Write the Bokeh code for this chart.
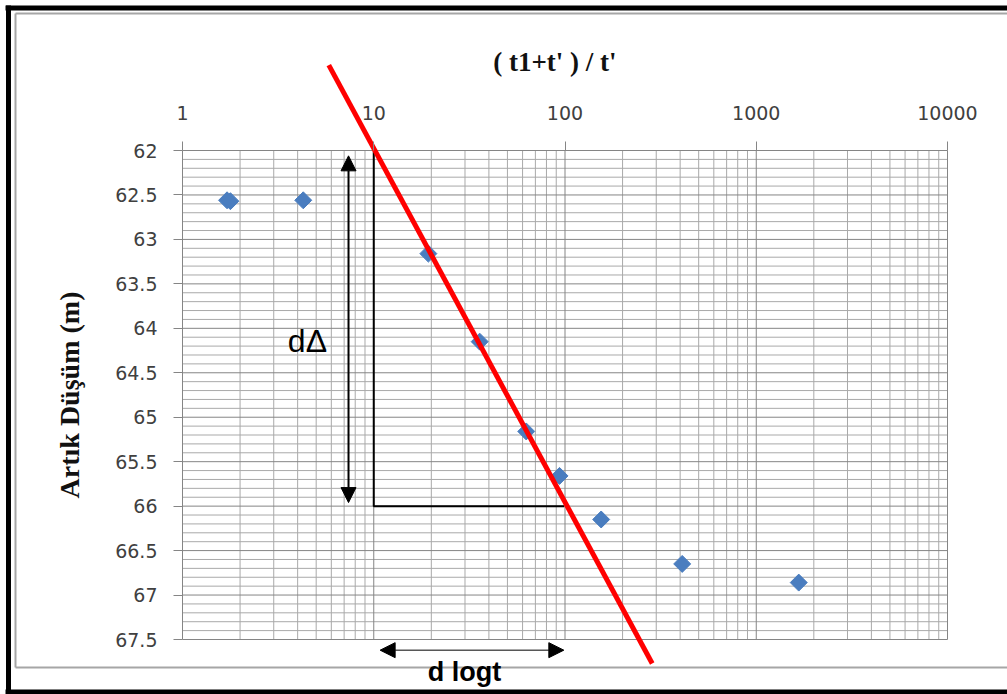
import math
import numpy as np
from bokeh.plotting import figure
from bokeh.models import Range1d, FixedTicker, Arrow, NormalHead, Label, LinearAxis, LogAxis
from bokeh.embed import file_html
from bokeh.resources import INLINE

# Recovery test: (t1+t')/t' against residual drawdown
ratio = [1.71, 1.78, 4.28, 19.3, 35.8, 62.7, 93.6, 154.6, 410.0, 1668.0]
drawdown = [62.56, 62.57, 62.56, 63.16, 64.15, 65.16, 65.66, 66.15, 66.65, 66.86]

x_lim = (1, 10000)
y_lim = (62, 67.5)

x_ticks = [1, 10, 100, 1000, 10000]
x_tick_labels = ["1", "10", "100", "1000", "10000"]
x_minor = [m * 10 ** k for k in range(4) for m in range(2, 10)]

y_ticks = [62, 62.5, 63, 63.5, 64, 64.5, 65, 65.5, 66, 66.5, 67, 67.5]
y_tick_labels = ["62", "62.5", "63", "63.5", "64", "64.5", "65", "65.5", "66", "66.5", "67", "67.5"]
y_minor = [round(62 + 0.1 * i, 1) for i in range(56) if (i % 5) != 0]

# straight line through the late-time points
fit_x = [5.82, 285.8]
fit_y = [61.04, 67.77]

# slope triangle: one log cycle and the drawdown change over it
tri_x = [10, 10, 99]
tri_y = [62, 66, 66]

# dimension arrows and their labels
d_delta_x = [7.38, 7.38]
d_delta_y = [62.06, 65.96]
d_logt_x = [10.8, 98.6]
d_logt_y = [67.62, 67.62]
d_delta_pos = (4.5, 64.14)
d_logt_pos = (29.8, 67.87)

# page layout in pixels: canvas size and where the gridded area sits
W, H = 1007, 694
GRID_L, GRID_R, GRID_T, GRID_B = 182, 947, 150, 639

# the frame covers the whole canvas so that marks may run past the grid
px_per_decade = (GRID_R - GRID_L) / (math.log10(x_lim[1]) - math.log10(x_lim[0]))
lx0 = math.log10(x_lim[0]) - GRID_L / px_per_decade
lx1 = math.log10(x_lim[1]) + (W - GRID_R) / px_per_decade
u_per_px = (y_lim[1] - y_lim[0]) / (GRID_B - GRID_T)
y_top = y_lim[0] - GRID_T * u_per_px
y_bottom = y_lim[1] + (H - GRID_B) * u_per_px


def px_x(px):
    return 10 ** (lx0 + px / px_per_decade)


def px_y(py):
    return y_top + py * u_per_px


p = figure(width=W, height=H, x_axis_type="log",
           x_range=Range1d(10 ** lx0, 10 ** lx1), y_range=Range1d(y_bottom, y_top),
           output_backend="svg", toolbar_location=None,
           x_axis_location=None, y_axis_location=None,
           min_border=0)
p.background_fill_color = "white"
p.border_fill_color = "white"
p.outline_line_color = None
p.xgrid.visible = False
p.ygrid.visible = False

# grid, limited to the plotting area
major_c, minor_c = "#858585", "#a9a9a9"
p.segment(x0=x_minor, x1=x_minor, y0=[y_lim[0]] * len(x_minor), y1=[y_lim[1]] * len(x_minor),
          line_color=minor_c, line_width=1)
p.segment(x0=[x_lim[0]] * len(y_minor), x1=[x_lim[1]] * len(y_minor), y0=y_minor, y1=y_minor,
          line_color=minor_c, line_width=1)
p.segment(x0=x_ticks, x1=x_ticks, y0=[y_lim[0]] * len(x_ticks), y1=[y_lim[1]] * len(x_ticks),
          line_color=major_c, line_width=1)
p.segment(x0=[x_lim[0]] * len(y_ticks), x1=[x_lim[1]] * len(y_ticks), y0=y_ticks, y1=y_ticks,
          line_color=major_c, line_width=1)

# axes pinned to the edges of the grid
xax = LogAxis(fixed_location=y_lim[0], bounds=x_lim,
              ticker=FixedTicker(ticks=x_ticks, minor_ticks=[]))
yax = LinearAxis(fixed_location=x_lim[0], bounds=y_lim,
                 ticker=FixedTicker(ticks=y_ticks, minor_ticks=[]))
p.add_layout(xax, "above")
p.add_layout(yax, "left")

for ax in (xax, yax):
    ax.axis_line_color = None
    ax.major_tick_in = 0
    ax.major_tick_out = 9
    ax.major_tick_line_color = major_c
    ax.minor_tick_line_color = None
    ax.major_label_text_font = "DejaVu Sans"
    ax.major_label_text_font_size = "19px"
    ax.major_label_text_color = "#404040"
    ax.axis_label_text_font = "Liberation Serif"
    ax.axis_label_text_font_style = "bold"
    ax.axis_label_text_color = "#111111"

xax.major_label_overrides = dict(zip(x_ticks, x_tick_labels))
xax.axis_label = "( t1+t'  )  /  t'"
xax.axis_label_text_font_size = "27px"
xax.major_label_standoff = 22
xax.axis_label_standoff = 26

yax.major_label_overrides = dict(zip(y_ticks, y_tick_labels))
yax.axis_label = "Artık Düşüm (m)"
yax.axis_label_text_font_size = "28px"
yax.major_label_standoff = 16
yax.axis_label_standoff = 27

# measured points
p.scatter(ratio, drawdown, marker="square", angle=np.pi / 4, size=12,
          fill_color="#4a7dbf", line_color="#4a7dbf")

# slope triangle
p.line(tri_x, tri_y, line_color="black", line_width=2)

# fitted straight line
p.line(fit_x, fit_y, line_color="#ff0000", line_width=5)

head = dict(size=15, fill_color="black", line_color="black")
p.add_layout(Arrow(x_start=d_delta_x[0], y_start=d_delta_y[0],
                   x_end=d_delta_x[1], y_end=d_delta_y[1], line_width=2,
                   start=NormalHead(**head), end=NormalHead(**head)))
p.add_layout(Arrow(x_start=d_logt_x[0], y_start=d_logt_y[0],
                   x_end=d_logt_x[1], y_end=d_logt_y[1], line_width=1,
                   start=NormalHead(**head), end=NormalHead(**head)))

p.add_layout(Label(x=d_delta_pos[0], y=d_delta_pos[1], text="dΔ",
                   text_align="center", text_baseline="middle",
                   text_font="Liberation Sans", text_font_size="32px", text_color="black"))
p.add_layout(Label(x=d_logt_pos[0], y=d_logt_pos[1], text="d logt",
                   text_align="center", text_baseline="middle",
                   text_font="Liberation Sans", text_font_style="bold",
                   text_font_size="27px", text_color="black"))

# chart-area border (light grey), open on the right
gray_x = [[px_x(15), px_x(15)], [px_x(15), px_x(W)], [px_x(15), px_x(W)]]
gray_y = [[px_y(13), px_y(667)], [px_y(13), px_y(13)], [px_y(667), px_y(667)]]
p.multi_line(gray_x, gray_y, line_color="#a6a6a6", line_width=2)

# outer black frame, open on the right
black_x = [[px_x(8), px_x(8)], [px_x(5), px_x(W)], [px_x(5), px_x(W)]]
black_y = [[px_y(5), px_y(H)], [px_y(7.5), px_y(7.5)], [px_y(691.5), px_y(691.5)]]
p.multi_line(black_x, black_y, line_color="black", line_width=5)

open("out.html", "w").write(file_html(p, INLINE))
